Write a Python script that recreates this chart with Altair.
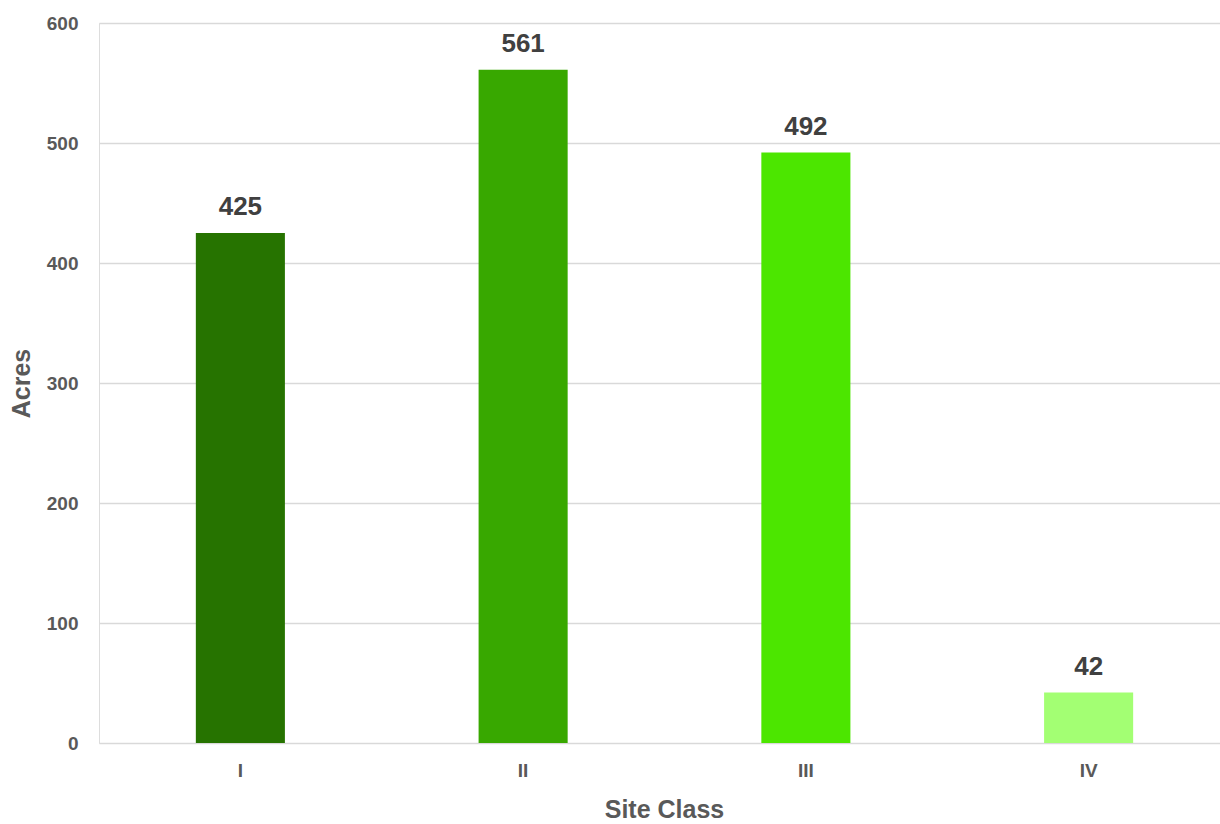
import altair as alt
import pandas as pd

classes = ["I", "II", "III", "IV"]
acres = [425, 561, 492, 42]
colors = ["#267300", "#38A800", "#4CE600", "#A3FF73"]

df = pd.DataFrame({"Site Class": classes, "Acres": acres})

FONT = "Liberation Sans"

x_enc = alt.X(
    "Site Class:N",
    sort=classes,
    scale=alt.Scale(range=[0, 1131], paddingInner=0.685, paddingOuter=0.3425),
    axis=alt.Axis(
        title="Site Class",
        labelAngle=0,
        labelFont=FONT,
        labelFontSize=19,
        labelFontWeight="bold",
        labelColor="#595959",
        labelPadding=18,
        ticks=False,
        domain=False,
        titleFont=FONT,
        titleFontSize=25,
        titleFontWeight="bold",
        titleColor="#595959",
        titleX=565,
        titleY=74,
        titleBaseline="alphabetic",
        titleAlign="center",
    ),
)

y_enc = alt.Y(
    "Acres:Q",
    scale=alt.Scale(domain=[0, 600], nice=False),
    axis=alt.Axis(
        title="Acres",
        values=[0, 100, 200, 300, 400, 500, 600],
        labelFont=FONT,
        labelFontSize=19,
        labelFontWeight="bold",
        labelColor="#595959",
        labelPadding=21,
        ticks=False,
        domain=False,
        grid=True,
        gridColor="#d9d9d9",
        gridWidth=1.5,
        titleFont=FONT,
        titleFontSize=25,
        titleFontWeight="bold",
        titleColor="#595959",
        titleX=-78,
        titleY=360,
        titleAngle=270,
        titleAlign="center",
        titleBaseline="middle",
    ),
)

bars = alt.Chart(df).mark_bar().encode(
    x=x_enc,
    y=y_enc,
    color=alt.Color("Site Class:N", scale=alt.Scale(domain=classes, range=colors), legend=None),
)

labels = alt.Chart(df).mark_text(
    font=FONT, fontSize=26, fontWeight="bold", color="#404040",
    baseline="alphabetic", dy=-18,
).encode(
    x=alt.X("Site Class:N", sort=classes),
    y=alt.Y("Acres:Q"),
    text=alt.Text("Acres:Q"),
)

chart = alt.layer(bars, labels).properties(
    width=1121,
    height=720,
    autosize=alt.AutoSizeParams(type="none"),
    padding={"left": 99, "top": 23, "right": 0, "bottom": 81},
).configure_view(stroke=None).configure(background="white")

chart.save("out.html", embed_options={"renderer": "svg", "actions": False})
